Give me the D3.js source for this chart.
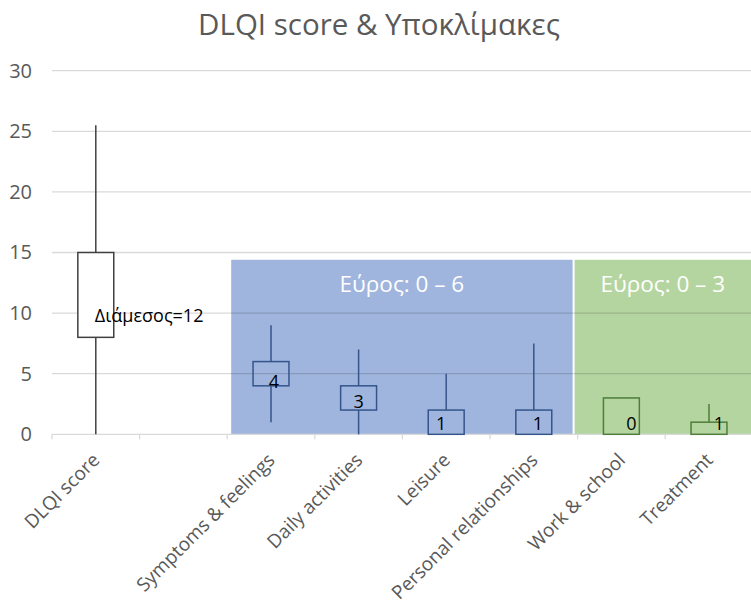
<!DOCTYPE html>
<html><head><meta charset="utf-8">
<script src="https://cdn.jsdelivr.net/npm/d3@7"></script>
<style>body{margin:0;background:#fff}svg{display:block}text{font-family:"Open Sans",sans-serif}</style>
</head><body>
<svg id="c" width="751" height="605"></svg>
<script>
// ---- data ----
const categories = ["DLQI score", "", "Symptoms & feelings", "Daily activities", "Leisure", "Personal relationships", "Work & school", "Treatment"];
const whiskerMin = [0, null, 1, 0, 0, 0, 0, 1];
const boxQ1      = [8, null, 4, 2, 0, 0, 0, 0];
const boxQ3      = [15, null, 6, 4, 2, 2, 3, 1];
const whiskerMax = [25.5, null, 9, 7, 5, 7.5, 3, 2.5];
const dataLabels = ["Διάμεσος=12", "", "4", "3", "1", "1", "0", "1"];
const labelValue = [9.8, null, 4.3, 2.7, 0.9, 0.9, 0.85, 0.85];
const yTicks = [0, 5, 10, 15, 20, 25, 30];
const panelNames = ["Εύρος: 0 – 6", "Εύρος: 0 – 3"];
const panelFrom  = ["Symptoms & feelings", "Work & school"];
const panelTo    = ["Personal relationships", "Treatment"];
const panelTop   = [14.4, 14.4];
const boxGroup   = [0, null, 1, 1, 1, 1, 2, 2];
const title = "DLQI score & Υποκλίμακες";

// ---- layout ----
const W = 751, H = 605;
const x0 = 52, band = 87.6;
const labelDx = [-1, 0, 3, 0, -5, 4, 10, 10];
const panelInset = [[4, -5], [-3, 0]];
const groupStroke = ["#404040", "#34558c", "#4f7d3a"];
const groupFill = ["#ffffff", "none", "none"];
const panelFill = ["#9fb5dd", "#b5d5a0"];

const svg = d3.select("#c");
const x = d3.scaleBand().domain(categories.map((d, i) => i)).range([x0, x0 + band * categories.length]).padding(0);
const y = d3.scaleLinear().domain([0, 30]).range([434.3, 70.7]);
const bw = x.bandwidth() * 0.41;

// panels
panelNames.forEach((name, i) => {
  const a = categories.indexOf(panelFrom[i]), b = categories.indexOf(panelTo[i]);
  const left = x(a) + panelInset[i][0];
  const right = Math.min(W, x(b) + x.bandwidth() + panelInset[i][1]);
  svg.append("rect").attr("x", left).attr("y", y(panelTop[i]))
    .attr("width", right - left).attr("height", y(0) - y(panelTop[i]))
    .attr("fill", panelFill[i]);
  svg.append("text").attr("x", (left + right) / 2).attr("y", y(panelTop[i]) + 24)
    .attr("dy", "0.35em").attr("text-anchor", "middle").attr("fill", "#fff")
    .attr("font-size", 22.5).text(name);
});

// gridlines
svg.append("g").selectAll("line").data(yTicks.filter(t => t > 0)).join("line")
  .attr("x1", x0).attr("x2", W).attr("y1", d => y(d)).attr("y2", d => y(d))
  .attr("stroke", "rgba(0,0,0,0.15)").attr("stroke-width", 1.3);

// y axis labels
const ya = svg.append("g").attr("transform", `translate(${x0 - 20},0)`)
  .call(d3.axisLeft(y).tickValues(yTicks).tickSize(0).tickPadding(0));
ya.select(".domain").remove();
ya.selectAll("text").attr("font-size", 20).attr("fill", "#595959").attr("font-family", "Open Sans");

// x axis line and ticks
svg.append("line").attr("x1", x0).attr("x2", W).attr("y1", y(0)).attr("y2", y(0))
  .attr("stroke", "#d9d9d9").attr("stroke-width", 1.3);
svg.append("g").selectAll("line").data(d3.range(categories.length + 1)).join("line")
  .attr("x1", d => x0 + d * band).attr("x2", d => x0 + d * band)
  .attr("y1", y(0)).attr("y2", y(0) + 5).attr("stroke", "#d9d9d9").attr("stroke-width", 1.3);

// x labels
svg.append("g").selectAll("text").data(categories).join("text")
  .attr("transform", (d, i) => `translate(${x(i) + x.bandwidth() / 2 + 5},${y(0) + 27}) rotate(-45)`)
  .attr("text-anchor", "end").attr("font-size", 19).attr("fill", "#595959").text(d => d);

// boxes
categories.forEach((c, i) => {
  if (boxQ1[i] == null) return;
  const cx = x(i) + x.bandwidth() / 2;
  const g = svg.append("g");
  const s = groupStroke[boxGroup[i]];
  if (whiskerMax[i] > boxQ3[i])
    g.append("line").attr("x1", cx).attr("x2", cx).attr("y1", y(boxQ3[i])).attr("y2", y(whiskerMax[i])).attr("stroke", s).attr("stroke-width", 1.5);
  if (whiskerMin[i] < boxQ1[i])
    g.append("line").attr("x1", cx).attr("x2", cx).attr("y1", y(boxQ1[i])).attr("y2", y(whiskerMin[i])).attr("stroke", s).attr("stroke-width", 1.5);
  g.append("rect").attr("x", cx - bw / 2).attr("y", y(boxQ3[i])).attr("width", bw)
    .attr("height", y(boxQ1[i]) - y(boxQ3[i])).attr("fill", groupFill[boxGroup[i]])
    .attr("stroke", s).attr("stroke-width", 1.5);
  const t = g.append("text").attr("x", cx + labelDx[i]).attr("y", y(labelValue[i])).attr("dy", "0.35em")
    .attr("font-size", i === 0 ? 18 : 18).attr("fill", "#000").text(dataLabels[i]);
  t.attr("text-anchor", i === 0 ? "start" : "middle");
});

// title
svg.append("text").attr("x", 379).attr("y", 35).attr("text-anchor", "middle")
  .attr("font-size", 29.5).attr("fill", "#595959").text(title);
</script>
</body></html>
